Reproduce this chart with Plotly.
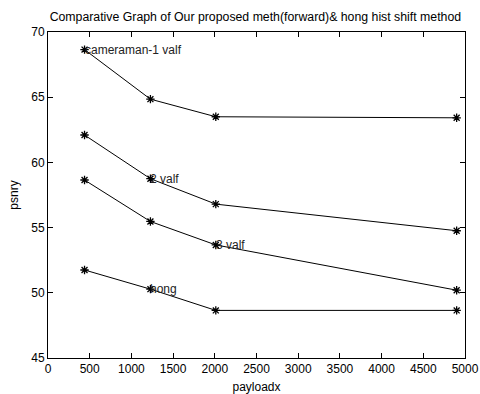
import plotly.graph_objects as go

payload = [438, 1228, 2012, 4900]
cameraman = [68.65, 64.85, 63.5, 63.42]
valf2 = [62.1, 58.75, 56.8, 54.76]
valf3 = [58.65, 55.47, 53.67, 50.2]
hong = [51.75, 50.28, 48.65, 48.65]

series = [cameraman, valf2, valf3, hong]
labels = ["cameraman-1 valf", "2 valf", "3 valf", "hong"]
label_idx = [0, 1, 2, 1]

FONT = "Liberation Sans, Arial, Helvetica"

fig = go.Figure()
for ys in series:
    fig.add_trace(go.Scatter(
        x=payload, y=ys, mode="lines+markers",
        line=dict(color="black", width=1),
        marker=dict(symbol="asterisk-open", size=7, color="black",
                    line=dict(color="black", width=1.3)),
        showlegend=False))

for ys, lab, i in zip(series, labels, label_idx):
    fig.add_annotation(x=payload[i], y=ys[i], text=lab, showarrow=False,
                       xanchor="left", yanchor="middle", xshift=-2,
                       font=dict(family=FONT, size=12, color="#222"))

axis_common = dict(showgrid=False, zeroline=False, showline=True, linecolor="black",
                   linewidth=1, mirror="ticks", ticks="inside", ticklen=5,
                   tickcolor="black", automargin=False,
                   tickfont=dict(family=FONT, size=12, color="black"))

fig.update_xaxes(range=[0, 5000], tickmode="array",
                 tickvals=list(range(0, 5001, 500)),
                 title=dict(text="payloadx", font=dict(family=FONT, size=12, color="black"), standoff=8),
                 **axis_common)
fig.update_yaxes(range=[45, 70], tickmode="array", tickvals=[45, 50, 55, 60, 65, 70],
                 title=dict(text="psnry", font=dict(family=FONT, size=12, color="black"), standoff=10),
                 **axis_common)

fig.update_layout(
    width=480, height=394,
    margin=dict(l=48, r=15, t=32, b=36),
    paper_bgcolor="white", plot_bgcolor="white",
    title=dict(text="Comparative Graph of Our proposed meth(forward)& hong hist shift method",
               x=0.532, xanchor="center", y=0.957, yanchor="middle",
               font=dict(family=FONT, size=12.3, color="black")),
)

fig.write_html("out.html", config={"displayModeBar": False},
               post_script="document.body.style.margin='0';document.body.style.padding='0';")
